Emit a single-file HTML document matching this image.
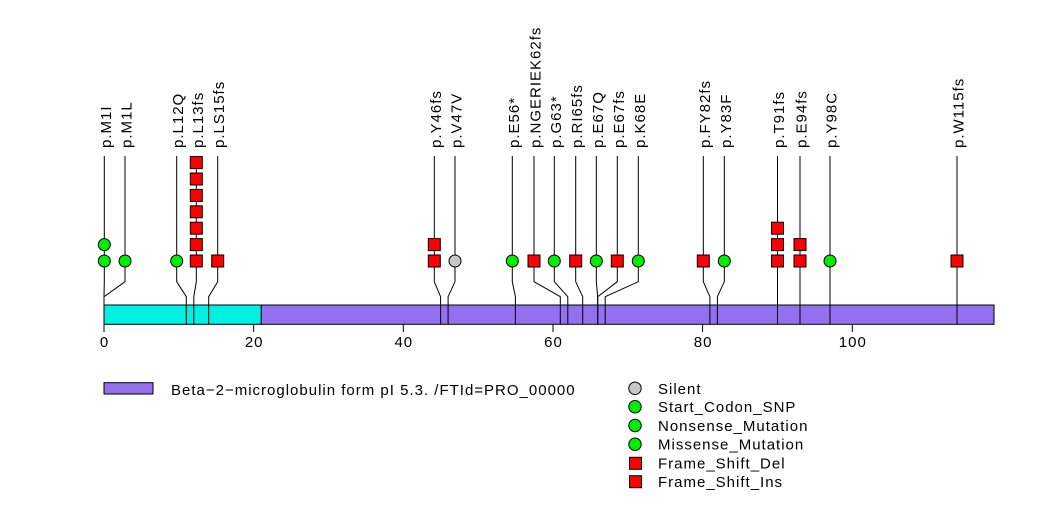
<!DOCTYPE html>
<html><head><meta charset="utf-8"><style>
html,body{margin:0;padding:0;background:#fff;}
svg{display:block;}
text{font-family:"Liberation Sans",Arial,sans-serif;font-size:15px;letter-spacing:1px;fill:#000;}
</style></head><body>
<svg width="1047" height="524" viewBox="0 0 1047 524" xmlns="http://www.w3.org/2000/svg">
<rect x="0" y="0" width="1047" height="524" fill="#fff"/>
<!-- protein bar -->
<rect x="104" y="305" width="157.3" height="19.3" fill="#03efe2" stroke="#000" stroke-width="1"/>
<rect x="261.3" y="305" width="732.7" height="19.3" fill="#9370ee" stroke="#000" stroke-width="1"/>
<!-- axis ticks -->
<g stroke="#000" stroke-width="1">
<line x1="104" y1="324.3" x2="104" y2="332"/>
<line x1="253.7" y1="324.3" x2="253.7" y2="332"/>
<line x1="403.3" y1="324.3" x2="403.3" y2="332"/>
<line x1="553" y1="324.3" x2="553" y2="332"/>
<line x1="702.6" y1="324.3" x2="702.6" y2="332"/>
<line x1="852.3" y1="324.3" x2="852.3" y2="332"/>
</g>
<g text-anchor="middle">
<text x="104.5" y="347">0</text>
<text x="254.2" y="347">20</text>
<text x="403.8" y="347">40</text>
<text x="553.5" y="347">60</text>
<text x="703.1" y="347">80</text>
<text x="852.8" y="347">100</text>
</g>
<!-- stems and connectors -->
<g stroke="#000" stroke-width="1" fill="none">
<polyline points="104.3,156 104.3,281.7 104,296.7 104,324.3"/>
<polyline points="125,156 125,281.7 104,296.7 104,324.3"/>
<polyline points="176.7,156 176.7,281.7 186.3,296.7 186.3,324.3"/>
<polyline points="196.3,156 196.3,281.7 193.8,296.7 193.8,324.3"/>
<polyline points="217.7,156 217.7,281.7 208.7,296.7 208.7,324.3"/>
<polyline points="434.3,156 434.3,281.7 440.6,296.7 440.6,324.3"/>
<polyline points="455,156 455,281.7 448.1,296.7 448.1,324.3"/>
<polyline points="512.3,156 512.3,281.7 515.4,296.7 515.4,324.3"/>
<polyline points="534,156 534,281.7 560.3,296.7 560.3,324.3"/>
<polyline points="554.3,156 554.3,281.7 567.8,296.7 567.8,324.3"/>
<polyline points="575.7,156 575.7,281.7 582.7,296.7 582.7,324.3"/>
<polyline points="596.3,156 596.3,281.7 597.7,296.7 597.7,324.3"/>
<polyline points="617.3,156 617.3,281.7 597.7,296.7 597.7,324.3"/>
<polyline points="638.3,156 638.3,281.7 605.2,296.7 605.2,324.3"/>
<polyline points="703.3,156 703.3,281.7 709.9,296.7 709.9,324.3"/>
<polyline points="724.3,156 724.3,281.7 717.4,296.7 717.4,324.3"/>
<polyline points="777.5,156 777.5,324.3"/>
<polyline points="800,156 800,324.3"/>
<polyline points="830,156 830,324.3"/>
<polyline points="957,156 957,324.3"/>
</g>
<!-- markers -->
<g stroke="#000" stroke-width="1">
<!-- green circles -->
<g fill="#00ee00">
<circle cx="104.3" cy="261" r="6"/>
<circle cx="104.3" cy="244.6" r="6"/>
<circle cx="125" cy="261" r="6"/>
<circle cx="176.7" cy="261" r="6"/>
<circle cx="512.3" cy="261" r="6"/>
<circle cx="554.3" cy="261" r="6"/>
<circle cx="596.3" cy="261" r="6"/>
<circle cx="638.3" cy="261" r="6"/>
<circle cx="724.3" cy="261" r="6"/>
<circle cx="830" cy="261" r="6"/>
</g>
<circle cx="455" cy="261" r="6" fill="#c8c8c8"/>
<!-- red squares -->
<g fill="#ff0000">
<rect x="190.3" y="255" width="12" height="12"/>
<rect x="190.3" y="238.6" width="12" height="12"/>
<rect x="190.3" y="222.2" width="12" height="12"/>
<rect x="190.3" y="205.8" width="12" height="12"/>
<rect x="190.3" y="189.4" width="12" height="12"/>
<rect x="190.3" y="173" width="12" height="12"/>
<rect x="190.3" y="156.6" width="12" height="12"/>
<rect x="211.7" y="255" width="12" height="12"/>
<rect x="428.3" y="255" width="12" height="12"/>
<rect x="428.3" y="238.6" width="12" height="12"/>
<rect x="528" y="255" width="12" height="12"/>
<rect x="569.7" y="255" width="12" height="12"/>
<rect x="611.3" y="255" width="12" height="12"/>
<rect x="697.3" y="255" width="12" height="12"/>
<rect x="771.5" y="255" width="12" height="12"/>
<rect x="771.5" y="238.6" width="12" height="12"/>
<rect x="771.5" y="222.2" width="12" height="12"/>
<rect x="794" y="255" width="12" height="12"/>
<rect x="794" y="238.6" width="12" height="12"/>
<rect x="951" y="255" width="12" height="12"/>
</g>
</g>
<!-- rotated labels -->
<g>
<text transform="translate(110.8,148) rotate(-90)">p.M1I</text>
<text transform="translate(131.5,148) rotate(-90)">p.M1L</text>
<text transform="translate(183.2,148) rotate(-90)">p.L12Q</text>
<text transform="translate(202.8,148) rotate(-90)">p.L13fs</text>
<text transform="translate(224.2,148) rotate(-90)">p.LS15fs</text>
<text transform="translate(440.8,148) rotate(-90)">p.Y46fs</text>
<text transform="translate(461.5,148) rotate(-90)">p.V47V</text>
<text transform="translate(518.8,148) rotate(-90)">p.E56*</text>
<text transform="translate(540.5,148) rotate(-90)">p.NGERIEK62fs</text>
<text transform="translate(560.8,148) rotate(-90)">p.G63*</text>
<text transform="translate(582.2,148) rotate(-90)">p.RI65fs</text>
<text transform="translate(602.8,148) rotate(-90)">p.E67Q</text>
<text transform="translate(623.8,148) rotate(-90)">p.E67fs</text>
<text transform="translate(644.8,148) rotate(-90)">p.K68E</text>
<text transform="translate(709.8,148) rotate(-90)">p.FY82fs</text>
<text transform="translate(730.8,148) rotate(-90)">p.Y83F</text>
<text transform="translate(784,148) rotate(-90)">p.T91fs</text>
<text transform="translate(806.5,148) rotate(-90)">p.E94fs</text>
<text transform="translate(836.5,148) rotate(-90)">p.Y98C</text>
<text transform="translate(963.5,148) rotate(-90)">p.W115fs</text>
</g>
<!-- legend left -->
<rect x="104" y="382.7" width="49" height="11.3" fill="#9370ee" stroke="#000" stroke-width="1"/>
<text x="171" y="395">Beta−2−microglobulin form pI 5.3. /FTId=PRO_00000</text>
<!-- legend right -->
<g stroke="#000" stroke-width="1">
<circle cx="635" cy="388.3" r="6.2" fill="#c8c8c8"/>
<circle cx="635" cy="406.7" r="6.2" fill="#00ee00"/>
<circle cx="635" cy="425.5" r="6.2" fill="#00ee00"/>
<circle cx="635" cy="444.2" r="6.2" fill="#00ee00"/>
<rect x="629.5" y="457.3" width="12" height="12" fill="#ff0000"/>
<rect x="629.5" y="475.7" width="12" height="12" fill="#ff0000"/>
</g>
<text x="658" y="393.8">Silent</text>
<text x="658" y="412.2">Start_Codon_SNP</text>
<text x="658" y="431">Nonsense_Mutation</text>
<text x="658" y="449.7">Missense_Mutation</text>
<text x="658" y="468.6">Frame_Shift_Del</text>
<text x="658" y="487">Frame_Shift_Ins</text>
</svg>
</body></html>
